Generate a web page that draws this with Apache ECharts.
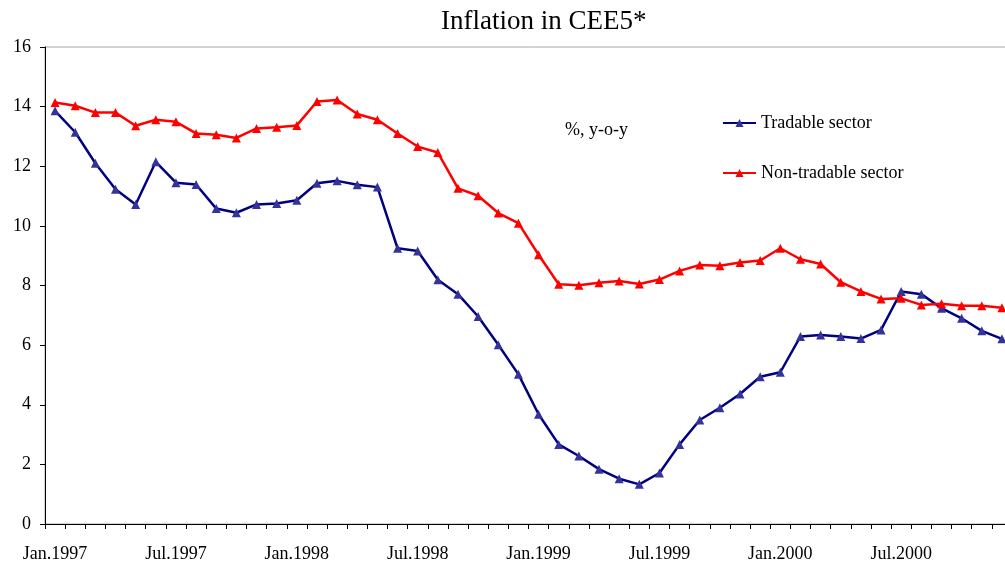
<!DOCTYPE html>
<html>
<head>
<meta charset="utf-8">
<script src="https://cdn.jsdelivr.net/npm/echarts@6/dist/echarts.min.js"></script>
<style>
  html, body { margin: 0; padding: 0; background: #fff; overflow: hidden; }
  /* plot runs past the right edge of the window, as in the original */
  #chart { width: 1012px; height: 564px; }
</style>
</head>
<body>
<div id="chart"></div>
<script>
// months, Jan.1997 - Dec.2000
const months = [
  "Jan.1997", "Feb.1997", "Mar.1997", "Apr.1997", "May.1997", "Jun.1997",
  "Jul.1997", "Aug.1997", "Sep.1997", "Oct.1997", "Nov.1997", "Dec.1997",
  "Jan.1998", "Feb.1998", "Mar.1998", "Apr.1998", "May.1998", "Jun.1998",
  "Jul.1998", "Aug.1998", "Sep.1998", "Oct.1998", "Nov.1998", "Dec.1998",
  "Jan.1999", "Feb.1999", "Mar.1999", "Apr.1999", "May.1999", "Jun.1999",
  "Jul.1999", "Aug.1999", "Sep.1999", "Oct.1999", "Nov.1999", "Dec.1999",
  "Jan.2000", "Feb.2000", "Mar.2000", "Apr.2000", "May.2000", "Jun.2000",
  "Jul.2000", "Aug.2000", "Sep.2000", "Oct.2000", "Nov.2000", "Dec.2000"
];

// % y-o-y
const tradable = [
  13.86, 13.14, 12.10, 11.23, 10.72, 12.15, 11.45, 11.39, 10.58, 10.44, 10.72, 10.75,
  10.86, 11.43, 11.51, 11.38, 11.30, 9.25, 9.16, 8.19, 7.71, 6.96, 6.01, 5.02,
  3.68, 2.67, 2.28, 1.84, 1.52, 1.33, 1.71, 2.67, 3.49, 3.90, 4.36, 4.94,
  5.09, 6.29, 6.34, 6.29, 6.22, 6.51, 7.80, 7.71, 7.24, 6.90, 6.48, 6.21
];

const nonTradable = [
  14.14, 14.03, 13.80, 13.80, 13.36, 13.56, 13.49, 13.10, 13.06, 12.95, 13.27, 13.31,
  13.37, 14.17, 14.22, 13.75, 13.56, 13.10, 12.66, 12.46, 11.26, 11.01, 10.43, 10.09,
  9.03, 8.04, 8.01, 8.09, 8.15, 8.05, 8.20, 8.49, 8.69, 8.66, 8.77, 8.84,
  9.25, 8.88, 8.72, 8.11, 7.80, 7.55, 7.57, 7.35, 7.39, 7.32, 7.32, 7.25
];

const serif = "Liberation Serif";

let mychart = echarts.init(document.getElementById("chart"));
mychart.setOption({
  animation: false,
  title: {
    text: "Inflation in CEE5*",
    left: 436,
    top: 3,
    textStyle: {
      fontFamily: serif,
      fontWeight: "normal",
      fontSize: 27,
      color: "#000"
    }
  },
  legend: {
    orient: "vertical",
    left: 722,
    top: 114,
    padding: 0,
    itemGap: 32,
    itemWidth: 33,
    itemHeight: 10,
    textStyle: {
      fontFamily: serif,
      fontSize: 18,
      color: "#000"
    },
    data: ["Tradable sector", "Non-tradable sector"]
  },
  graphic: [
    {
      type: "text",
      left: 565,
      top: 121,
      style: {
        text: "%, y-o-y",
        font: "18px " + serif,
        fill: "#000"
      }
    }
  ],
  grid: {
    left: 45,
    top: 47,
    bottom: 40,
    right: 0,
    show: true,
    borderColor: "#a6a6a6",
    borderWidth: 1
  },
  xAxis: {
    type: "category",
    data: months,
    boundaryGap: true,
    axisLine: { lineStyle: { color: "#000", width: 1 } },
    axisTick: {
      show: true,
      interval: 0,
      length: 5,
      lineStyle: { color: "#000" }
    },
    axisLabel: {
      interval: 5,
      margin: 21,
      fontFamily: serif,
      fontSize: 18,
      color: "#000"
    },
    splitLine: { show: false }
  },
  yAxis: {
    type: "value",
    min: 0,
    max: 16,
    interval: 2,
    axisLine: { show: true, lineStyle: { color: "#000", width: 1 } },
    axisTick: { show: true, length: 5, lineStyle: { color: "#000" } },
    axisLabel: {
      margin: 14,
      fontFamily: serif,
      fontSize: 18,
      color: "#000"
    },
    splitLine: { show: false }
  },
  series: [
    {
      name: "Tradable sector",
      type: "line",
      data: tradable,
      symbol: "triangle",
      symbolSize: 9,
      showAllSymbol: true,
      lineStyle: { color: "#000080", width: 2.5 },
      itemStyle: { color: "#333399" }
    },
    {
      name: "Non-tradable sector",
      type: "line",
      data: nonTradable,
      symbol: "triangle",
      symbolSize: 9,
      showAllSymbol: true,
      lineStyle: { color: "#ff0000", width: 2.5 },
      itemStyle: { color: "#ff0000" }
    }
  ]
});
window.addEventListener("resize", () => {
  mychart.resize();
});
</script>
</body>
</html>
